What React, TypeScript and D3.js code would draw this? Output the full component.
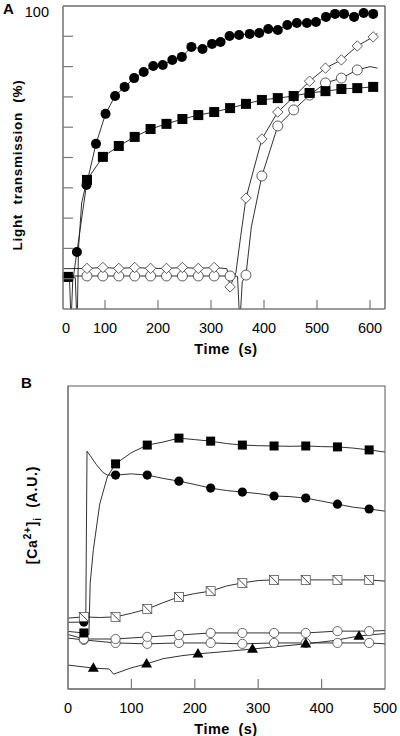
import React from "react";
import * as d3 from "d3";

// ---------------- Panel A data (time s, light transmission %) ----------------
const aFillCircT = [29,47,65,83,101,119,137,155,173,191,209,227,245,263,284,302,318,335,353,373,391,408,426,444,462,481,498,517,534,551,570,588,606];
const aFillCircV = [10.6,18.8,40.9,54.5,64.4,70.3,73.3,76.2,78.2,80.2,80.5,82.2,83.2,86.5,85.8,87.5,88.1,90.1,90.4,90.8,91.1,92.4,92.1,93.7,94.4,94.4,94.7,96.4,97.4,97.4,96.4,97.7,97.4];
const aFillCircTraceT = [21, 33, 35, 37, 39, 614];
const aFillCircTraceV = [10.8, 10.4, 0, 0, 9, 97.3];

const aFillSqT = [30,66,96,126,156,186,216,246,276,306,336,366,396,426,456,486,516,546,576,606];
const aFillSqV = [10.6,42.6,50.2,53.8,56.8,59.4,61.1,62.7,64.0,65.0,66.3,67.7,69.0,69.6,70.3,71.3,71.9,72.6,72.9,73.3];
const aFillSqTraceT = [21, 44, 46, 48, 50, 56, 614];
const aFillSqTraceV = [10.4, 10.3, 0, 0, 20, 35, 73.5];

const aDiamT = [66,96,126,156,186,216,246,276,306,336,366,396,426,456,486,516,546,576,606];
const aDiamV = [13.4,13.7,13.4,13.7,13.4,13.4,13.7,13.4,13.7,7.3,36.6,56.1,65.0,70.0,75.2,79.5,82.2,86.8,89.8];
const aDiamTraceT = [21, 330, 342, 347, 356, 614];
const aDiamTraceV = [13.3, 13.3, 10, 12, 24, 91.0];

const aOpenCircT = [66,96,126,156,186,216,246,276,306,336,366,396,426,456,486,516,546,576];
const aOpenCircV = [10.9,10.9,10.9,10.9,10.9,10.9,10.9,10.9,10.9,10.9,11.2,43.9,60.4,65.7,70.6,74.6,76.2,78.9];
const aOpenCircTraceT = [21, 350, 353, 356, 359, 376, 600, 614];
const aOpenCircTraceV = [10.9, 10.8, 0, 0, 9, 27, 80, 79.5];

const aXTicks = [0, 100, 200, 300, 400, 500, 600];
const aYTicks = [10, 20, 30, 40, 50, 60, 70, 80, 90];
const aYLabelTicks = [100];

// ---------------- Panel B data (time s, [Ca2+]i A.U.) ----------------
const bMarkT = [25,75,125,175,225,275,325,375,425,475];
const bFillSqV = [18.5,74.3,80.5,82.8,81.8,80.5,80.2,80.2,79.9,78.9];
const bFillSqTraceT = [0, 31, 33, 35, 40, 50, 62, 100, 150, 200, 250, 300, 350, 400, 450, 500];
const bFillSqTraceV = [19, 18.2, 18, 35, 46, 61, 70, 78, 81.5, 82.3, 81, 80.3, 80.1, 80, 79.5, 78.2];

const bFillCircV = [22.1,70.6,70.6,68.6,66.3,65.0,63.7,63.0,61.0,59.4];
const bFillCircTraceT = [0, 28, 30, 35, 45, 55, 62, 100, 150, 200, 250, 300, 350, 400, 450, 500];
const bFillCircTraceV = [22, 22, 78.5, 77, 74, 71.5, 70.6, 71, 69.5, 67.5, 65.5, 64.5, 63.5, 62, 60, 58.7];

const bSlashSqV = [23.8,23.8,26.4,30.4,32.3,35.0,36.0,36.0,36.0,36.0];
const bSlashSqTraceT = [0, 50, 100, 150, 200, 250, 300, 350, 400, 450, 500];
const bSlashSqTraceV = [23.4, 23.6, 25, 28.5, 31.5, 34, 35.8, 36, 36, 36, 35.6];

const bOpenCircUpV = [16.5,16.5,17.2,17.8,18.5,18.5,18.5,18.5,19.1,19.1];
const bOpenCircUpTraceT = [0, 500];
const bOpenCircUpTraceV = [18, 19.3];

const bOpenCircLoV = [16.2,15.2,14.9,15.2,15.2,14.9,15.2,15.2,15.2,15.2];
const bOpenCircLoTraceT = [0, 500];
const bOpenCircLoTraceV = [16.8, 14.9];

const bTriT = [40,124,205,291,375,459];
const bTriV = [6.9,8.3,11.6,13.2,14.9,17.5];
const bTriTraceT = [0, 65, 72, 100, 150, 180, 250, 330, 420, 500];
const bTriTraceV = [7.9, 6.6, 4.9, 7, 10, 11, 12.4, 14, 16, 18.3];

const bXTicks = [0, 100, 200, 300, 400, 500];

// ---------------- helpers ----------------
const FONT = "'Liberation Sans', Arial, Helvetica, sans-serif";

function merge(t1: number[], v1: number[], t2: number[], v2: number[]): [number, number][] {
  const pts: [number, number][] = [];
  t1.forEach((t, i) => pts.push([t, v1[i]]));
  t2.forEach((t, i) => pts.push([t, v2[i]]));
  pts.sort((a, b) => a[0] - b[0]);
  return pts;
}

export default function App() {
  // Panel A scales
  const axL = 63, axR = 385, ayT = 6, ayB = 309;
  const xA = d3.scaleLinear().domain([20.75, 628.3]).range([axL, axR]);
  const yA = d3.scaleLinear().domain([0, 100]).range([ayB, ayT]);
  const lineA = d3.line<[number, number]>().x(d => xA(d[0])).y(d => yA(d[1]));

  // Panel B scales
  const bxL = 68, bxR = 385, byT = 386, byB = 689;
  const xB = d3.scaleLinear().domain([0, 500]).range([bxL, bxR]);
  const yB = d3.scaleLinear().domain([0, 100]).range([byB, byT]);
  const lineB = d3.line<[number, number]>().x(d => xB(d[0])).y(d => yB(d[1]));

  const traceStroke = "#1a1a1a";
  const axisGray = "#7a7a7a";

  const aCircLine = merge(aFillCircT, aFillCircV, aFillCircTraceT, aFillCircTraceV);
  const aSqLine = merge(aFillSqT, aFillSqV, aFillSqTraceT, aFillSqTraceV);
  const aDiamLine = merge(aDiamT, aDiamV, aDiamTraceT, aDiamTraceV);
  const aOpenLine = merge(aOpenCircT, aOpenCircV, aOpenCircTraceT, aOpenCircTraceV);

  const bSqLine = merge(bMarkT, bFillSqV, bFillSqTraceT, bFillSqTraceV);
  const bCircLine = merge(bMarkT, bFillCircV, bFillCircTraceT, bFillCircTraceV);
  const bSlashLine = merge(bMarkT, bSlashSqV, bSlashSqTraceT, bSlashSqTraceV);
  const bUpLine = merge(bMarkT, bOpenCircUpV, bOpenCircUpTraceT, bOpenCircUpTraceV);
  const bLoLine = merge(bMarkT, bOpenCircLoV, bOpenCircLoTraceT, bOpenCircLoTraceV);
  const bTriLine = merge(bTriT, bTriV, bTriTraceT, bTriTraceV);

  const tri = d3.symbol().type(d3.symbolTriangle).size(52)() || "";

  return (
    <svg width={400} height={736} style={{ position: "absolute", left: 0, top: 0, background: "#fff" }}
      fontFamily={FONT}>
      <rect x={0} y={0} width={400} height={736} fill="#fff" />

      {/* ================= Panel A ================= */}
      <text x={3} y={14} fontSize={15} fontWeight="bold">A</text>
      {/* traces */}
      <g fill="none" stroke={traceStroke} strokeWidth={0.9}>
        <path d={lineA(aOpenLine) || ""} />
        <path d={lineA(aDiamLine) || ""} />
        <path d={lineA(aSqLine) || ""} />
        <path d={lineA(aCircLine) || ""} />
      </g>
      {/* open circles */}
      {aOpenCircT.map((t, i) => (
        <circle key={"aoc" + i} cx={xA(t)} cy={yA(aOpenCircV[i])} r={5} fill="#fff" stroke="#333" strokeWidth={0.8} />
      ))}
      {/* diamonds */}
      {aDiamT.map((t, i) => {
        const cx = xA(t), cy = yA(aDiamV[i]), s = 5.2;
        return <path key={"ad" + i} d={`M${cx},${cy - s}L${cx + s},${cy}L${cx},${cy + s}L${cx - s},${cy}Z`} fill="#fff" stroke="#333" strokeWidth={0.8} />;
      })}
      {/* filled squares */}
      {aFillSqT.map((t, i) => (
        <rect key={"as" + i} x={xA(t) - 5} y={yA(aFillSqV[i]) - 5} width={10} height={10} fill="#000" />
      ))}
      {/* filled circles */}
      {aFillCircT.map((t, i) => (
        <circle key={"ac" + i} cx={xA(t)} cy={yA(aFillCircV[i])} r={5} fill="#000" />
      ))}
      {/* frame */}
      <line x1={axL} y1={ayT} x2={axR} y2={ayT} stroke="#222" strokeWidth={1} />
      <line x1={axR} y1={ayT} x2={axR} y2={ayB} stroke="#222" strokeWidth={1} />
      <line x1={axL} y1={ayT} x2={axL} y2={ayB} stroke={axisGray} strokeWidth={1.6} />
      <line x1={axL} y1={ayB} x2={axR} y2={ayB} stroke={axisGray} strokeWidth={1.6} />
      {aYTicks.map(v => (
        <line key={"ayt" + v} x1={axL} x2={axL + 10} y1={yA(v)} y2={yA(v)} stroke={axisGray} strokeWidth={1.2} />
      ))}
      {aXTicks.filter(t => t > 0).map(t => (
        <line key={"axt" + t} x1={xA(t)} x2={xA(t)} y1={ayB} y2={ayB - 9} stroke={axisGray} strokeWidth={1.2} />
      ))}
      {aYLabelTicks.map(v => (
        <text key={"ayl" + v} x={49} y={yA(v) + 11} fontSize={14.5} textAnchor="end">{v}</text>
      ))}
      {aXTicks.map(t => (
        <text key={"axl" + t} x={t === 0 ? axL + 3 : xA(t)} y={333} fontSize={14.5} textAnchor="middle">{t}</text>
      ))}
      <text x={226} y={354} fontSize={14.5} fontWeight="bold" textAnchor="middle" letterSpacing={0.5} wordSpacing={4}>Time (s)</text>
      <text transform={`translate(22,165) rotate(-90)`} fontSize={13.5} fontWeight="bold" textAnchor="middle" letterSpacing={0.7} wordSpacing={5}>Light transmission (%)</text>

      {/* ================= Panel B ================= */}
      <text x={21} y={388} fontSize={15} fontWeight="bold">B</text>
      <g fill="none" stroke={traceStroke} strokeWidth={0.9}>
        <path d={lineB(bLoLine) || ""} />
        <path d={lineB(bUpLine) || ""} />
        <path d={lineB(bTriLine) || ""} />
        <path d={lineB(bSlashLine) || ""} />
        <path d={lineB(bCircLine) || ""} />
        <path d={lineB(bSqLine) || ""} />
      </g>
      {bMarkT.map((t, i) => (
        <circle key={"blo" + i} cx={xB(t)} cy={yB(bOpenCircLoV[i])} r={4.6} fill="#fff" stroke="#444" strokeWidth={0.8} />
      ))}
      {bMarkT.map((t, i) => (
        <circle key={"bup" + i} cx={xB(t)} cy={yB(bOpenCircUpV[i])} r={4.6} fill="#fff" stroke="#444" strokeWidth={0.8} />
      ))}
      {bTriT.map((t, i) => (
        <path key={"btr" + i} d={tri} transform={`translate(${xB(t)},${yB(bTriV[i]) + 0.5})`} fill="#000" />
      ))}
      {bMarkT.map((t, i) => (
        <circle key={"bfc" + i} cx={xB(t)} cy={yB(bFillCircV[i])} r={4.6} fill="#000" />
      ))}
      {bMarkT.map((t, i) => (
        <rect key={"bfs" + i} x={xB(t) - 4.5} y={yB(bFillSqV[i]) - 4.5} width={9} height={9} fill="#000" />
      ))}
      {bMarkT.map((t, i) => {
        const cx = xB(t), cy = yB(bSlashSqV[i]), h = 4.5;
        return (
          <g key={"bss" + i}>
            <rect x={cx - h} y={cy - h} width={2 * h} height={2 * h} fill="#fff" stroke="#555" strokeWidth={0.8} />
            <line x1={cx - h} y1={cy - h} x2={cx + h} y2={cy + h} stroke="#333" strokeWidth={0.9} />
          </g>
        );
      })}
      {/* frame */}
      <rect x={bxL} y={byT} width={bxR - bxL} height={byB - byT} fill="none" stroke="#666" strokeWidth={1.1} />
      <line x1={bxL} y1={byB} x2={bxR} y2={byB} stroke={axisGray} strokeWidth={1.5} />
      <line x1={bxL} y1={byT} x2={bxL} y2={byB} stroke={axisGray} strokeWidth={1.3} />
      {bXTicks.filter(t => t > 0 && t < 500).map(t => (
        <line key={"bxt" + t} x1={xB(t)} x2={xB(t)} y1={byB} y2={byB - 10} stroke={axisGray} strokeWidth={1.2} />
      ))}
      {bXTicks.map(t => (
        <text key={"bxl" + t} x={xB(t)} y={713} fontSize={14.5} textAnchor="middle">{t}</text>
      ))}
      <text x={226} y={734} fontSize={14.5} fontWeight="bold" textAnchor="middle" letterSpacing={0.5} wordSpacing={4}>Time (s)</text>
      <text transform={`translate(37,515) rotate(-90)`} fontSize={14} fontWeight="bold" textAnchor="middle" letterSpacing={0.8}>
        <tspan>[Ca</tspan>
        <tspan fontSize={10} dy={-6}>2+</tspan>
        <tspan dy={6}>]</tspan>
        <tspan fontSize={10} dy={4}>i</tspan>
        <tspan dy={-4}>{"\u00a0\u00a0(A.U.)"}</tspan>
      </text>
    </svg>
  );
}
